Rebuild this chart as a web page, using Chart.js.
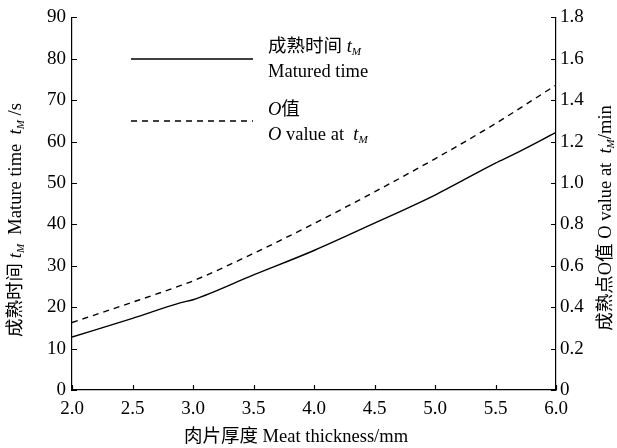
<!DOCTYPE html>
<html>
<head>
<meta charset="utf-8">
<script src="https://cdn.jsdelivr.net/npm/chart.js@4.4.0/dist/chart.umd.min.js"></script>
<style>
  html, body { margin: 0; padding: 0; background: #fff; }
  #wrap { width: 617px; height: 448px; }
</style>
</head>
<body>
<div id="wrap"><canvas id="myChart"></canvas></div>
<script>
// data
const thickness = [2.0, 2.5, 2.9, 3.0, 3.5, 4.0, 4.5, 5.0, 5.5, 5.65, 6.0];
const maturedTime = [12.8, 17.3, 21.1, 21.8, 27.8, 33.7, 40.3, 47.1, 54.8, 56.9, 62.2];
const oValue = [0.326, 0.424, 0.505, 0.527, 0.66, 0.804, 0.957, 1.117, 1.287, 1.342, 1.473];

const xTickStep = 0.5;
const leftTickStep = 10;
const rightTickStep = 0.2;

const SERIF = '"Liberation Serif", "Times New Roman", "Noto Sans CJK SC", serif';
const fnt = (size, italic) => (italic ? 'italic ' : '') + size + 'px ' + SERIF;

// draw a line of mixed text: {t, it, sub}
function richText(ctx, segs, x, y, size, align) {
    let total = 0;
    segs.forEach(s => {
        ctx.font = fnt(s.sub ? size * 0.6 : size, s.it);
        s.w = ctx.measureText(s.t).width;
        total += s.w;
    });
    let cx = align === 'center' ? x - total / 2 : x;
    ctx.textBaseline = 'middle';
    ctx.textAlign = 'left';
    segs.forEach(s => {
        ctx.font = fnt(s.sub ? size * 0.6 : size, s.it);
        ctx.fillText(s.t, cx, s.sub ? y + 5 : y);
        cx += s.w;
    });
}

const decorations = {
    id: 'decorations',
    afterDraw(chart) {
        const ctx = chart.ctx;
        const area = chart.chartArea;
        ctx.save();
        ctx.fillStyle = '#000';
        ctx.strokeStyle = '#000';
        ctx.lineWidth = 1.2;

        // inward tick marks
        const xs = chart.scales.x, yl = chart.scales.y, yr = chart.scales.y1;
        ctx.beginPath();
        xs.ticks.forEach(t => {
            const px = Math.round(xs.getPixelForValue(t.value)) + 0.5;
            ctx.moveTo(px, area.bottom); ctx.lineTo(px, area.bottom - 5);
        });
        yl.ticks.forEach(t => {
            const py = Math.round(yl.getPixelForValue(t.value)) + 0.5;
            ctx.moveTo(area.left, py); ctx.lineTo(area.left + 5, py);
        });
        yr.ticks.forEach(t => {
            const py = Math.round(yr.getPixelForValue(t.value)) + 0.5;
            ctx.moveTo(area.right, py); ctx.lineTo(area.right - 5, py);
        });
        ctx.stroke();

        // axis titles
        richText(ctx, [{t: '肉片厚度 Meat thickness/mm'}], 296, 437, 18.5, 'center');

        ctx.save();
        ctx.translate(16, 220);
        ctx.rotate(-Math.PI / 2);
        richText(ctx, [
            {t: '成熟时间 '}, {t: 't', it: true}, {t: 'M', it: true, sub: true},
            {t: '  Mature time  '}, {t: 't', it: true}, {t: 'M', it: true, sub: true}, {t: ' /s'}
        ], 0, 0, 18.5, 'center');
        ctx.restore();

        ctx.save();
        ctx.translate(606, 218);
        ctx.rotate(-Math.PI / 2);
        richText(ctx, [
            {t: '成熟点O值 O value at  '}, {t: 't', it: true}, {t: 'M', it: true, sub: true}, {t: '/min'}
        ], 0, 0, 18.5, 'center');
        ctx.restore();

        // legend
        chart.data.datasets.forEach((ds, i) => {
            const ly = i === 0 ? 59 : 121;
            ctx.save();
            ctx.lineWidth = ds.borderWidth;
            ctx.setLineDash(ds.borderDash || []);
            ctx.beginPath();
            ctx.moveTo(131, ly); ctx.lineTo(253, ly);
            ctx.stroke();
            ctx.restore();
        });
        richText(ctx, [{t: '成熟时间 '}, {t: 't', it: true}, {t: 'M', it: true, sub: true}], 268, 47, 18.5, 'left');
        richText(ctx, [{t: 'Matured time'}], 268, 72, 18.5, 'left');
        richText(ctx, [{t: 'O', it: true}, {t: '值'}], 268, 110, 18.5, 'left');
        richText(ctx, [{t: 'O', it: true}, {t: ' value at  '}, {t: 't', it: true}, {t: 'M', it: true, sub: true}], 268, 135, 18.5, 'left');

        ctx.restore();
    }
};

const ctx = document.getElementById('myChart').getContext('2d');

const chart = new Chart(ctx, {
    type: 'line',
    data: {
        datasets: [{
            label: '成熟时间 tM Matured time',
            data: thickness.map((x, i) => ({x: x, y: maturedTime[i]})),
            yAxisID: 'y',
            borderColor: '#000',
            borderWidth: 1.4,
            pointRadius: 0,
            cubicInterpolationMode: 'monotone'
        }, {
            label: 'O值 O value at tM',
            data: thickness.map((x, i) => ({x: x, y: oValue[i]})),
            yAxisID: 'y1',
            borderColor: '#000',
            borderWidth: 1.4,
            borderDash: [6, 5],
            pointRadius: 0,
            cubicInterpolationMode: 'monotone'
        }]
    },
    options: {
        responsive: true,
        maintainAspectRatio: false,
        animation: false,
        layout: {padding: {top: 17, left: 0, right: 0, bottom: 0}},
        plugins: {legend: {display: false}, tooltip: {enabled: false}},
        scales: {
            x: {
                type: 'linear',
                min: 2, max: 6,
                grid: {display: false, drawTicks: false},
                border: {display: true, color: '#000', width: 1.2},
                ticks: {
                    stepSize: xTickStep, color: '#000', padding: 8,
                    font: {family: SERIF, size: 19},
                    maxRotation: 0,
                    callback: v => v.toFixed(1)
                },
                afterFit: s => { s.height = 58; }
            },
            y: {
                position: 'left',
                min: 0, max: 90,
                grid: {display: false, drawTicks: false},
                border: {display: true, color: '#000', width: 1.2},
                ticks: {
                    stepSize: leftTickStep, color: '#000', padding: 6,
                    font: {family: SERIF, size: 19}
                },
                afterFit: s => { s.width = 72; }
            },
            y1: {
                position: 'right',
                min: 0, max: 1.8,
                grid: {display: false, drawTicks: false},
                border: {display: true, color: '#000', width: 1.2},
                ticks: {
                    stepSize: rightTickStep, color: '#000', padding: 4,
                    font: {family: SERIF, size: 19},
                    callback: v => v === 0 ? '0' : v.toFixed(1)
                },
                afterFit: s => { s.width = 61; }
            }
        }
    },
    plugins: [decorations]
});
</script>
</body>
</html>
